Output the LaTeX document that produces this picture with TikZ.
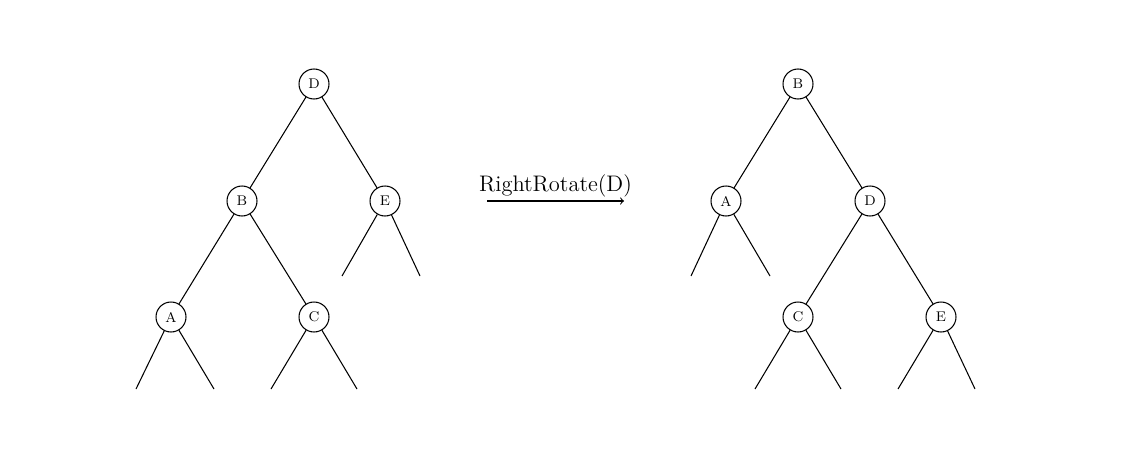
\documentclass[tikz,border=0pt]{standalone}
\usepackage{tikz}
\usetikzlibrary{arrows,positioning}

\begin{document}
\begin{tikzpicture}[x=0.02cm,y=-0.02cm,line width=0.6pt]
		\tikzstyle{vertex}=[draw,circle,minimum size=0.6cm,inner sep=0pt,font=\footnotesize]
		\useasboundingbox (0,0) rectangle (1145,466);
		% before the rotation
		\node[vertex] (D) at (314,84) {D};
		\node[vertex] (B) at (242,201) {B};
		\node[vertex] (E) at (385,201) {E};
		\node[vertex] (A) at (171,317) {A};
		\node[vertex] (C) at (314,317) {C};
		\coordinate (A1) at (136,389);
		\coordinate (A2) at (214,389);
		\coordinate (C1) at (271,389);
		\coordinate (C2) at (357,389);
		\coordinate (E1) at (342,276);
		\coordinate (E2) at (420,276);
		\path[draw]
		(D) -- (B)
		(D) -- (E)
		(B) -- (A)
		(B) -- (C)
		(A) -- (A1) (A) -- (A2)
		(C) -- (C1) (C) -- (C2)
		(E) -- (E1) (E) -- (E2);
		% the rotation
		\coordinate (r0) at (487,201);
		\coordinate (r1) at (624,201);
		\draw[->] (r0) -- node[above,inner sep=2pt,font=\fontsize{12.8}{15}\selectfont] (rot) {RightRotate(D)} (r1);
		% after the rotation
		\node[vertex] (b) at (798,84) {B};
		\node[vertex] (a) at (726,201) {A};
		\node[vertex] (d) at (870,201) {D};
		\node[vertex] (c) at (798,317) {C};
		\node[vertex] (e) at (941,317) {E};
		\coordinate (a1) at (691,276);
		\coordinate (a2) at (770,276);
		\coordinate (c1) at (755,389);
		\coordinate (c2) at (841,389);
		\coordinate (e1) at (898,389);
		\coordinate (e2) at (975,389);
		\path[draw]
		(b) -- (a)
		(b) -- (d)
		(d) -- (c)
		(d) -- (e)
		(a) -- (a1) (a) -- (a2)
		(c) -- (c1) (c) -- (c2)
		(e) -- (e1) (e) -- (e2);
	\end{tikzpicture}
\end{document}
